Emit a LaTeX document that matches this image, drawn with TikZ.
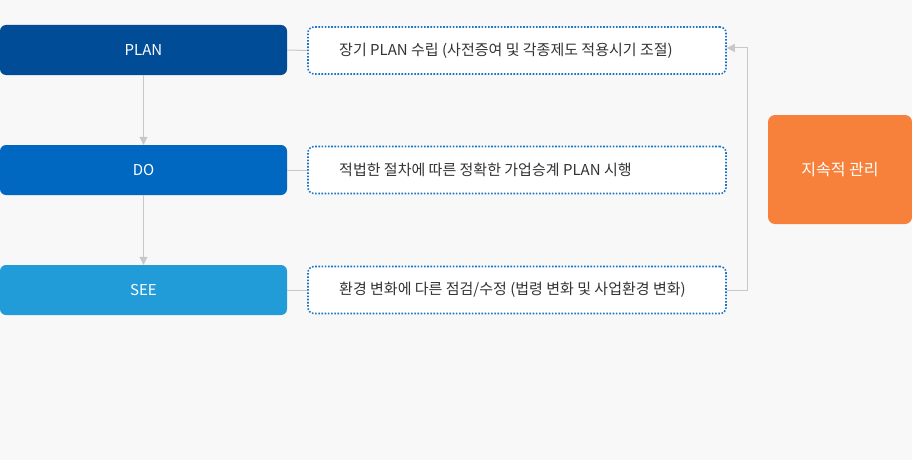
\documentclass[tikz,border=0pt]{standalone}
\usepackage{fontspec}
\setmainfont{Noto Sans CJK KR}
\usetikzlibrary{arrows.meta}
\definecolor{bgc}{HTML}{F8F8F8}
\definecolor{planc}{HTML}{004C97}
\definecolor{doc}{HTML}{0068C0}
\definecolor{seec}{HTML}{229CD8}
\definecolor{dotc}{HTML}{1A73C9}
\definecolor{linec}{HTML}{C8C8C8}
\definecolor{orc}{HTML}{F7813B}
\definecolor{txtc}{HTML}{333333}
\tikzset{
  x=1pt, y=-1pt,
  stagebox/.style={rounded corners=6pt, minimum width=287pt, minimum height=50pt, inner sep=0pt, text=white, font=\fontsize{15}{17}\selectfont},
  descbox/.style={draw=dotc, line width=1.6pt, dash pattern=on 1.6pt off 1.6pt, fill=white, rounded corners=6pt, minimum width=418pt, minimum height=47pt, inner sep=0pt},
  desctext/.style={anchor=west, text=txtc, font=\fontsize{15}{17}\selectfont, inner sep=0pt},
  conn/.style={draw=linec, line width=1pt},
  arr/.style={conn, -{Triangle[width=8pt,length=8pt]}},
}
\begin{document}
\begin{tikzpicture}
\fill[bgc] (0,0) rectangle (912,460);
\useasboundingbox (0,0) rectangle (912,460);
% stages
\node[stagebox, fill=planc] (plan) at (143.5,50) {PLAN};
\node[stagebox, fill=doc] (do) at (143.5,170) {DO};
\node[stagebox, fill=seec] (see) at (143.5,290) {SEE};
% descriptions
\node[descbox] (d1) at (517,50.5) {};
\node[descbox] (d2) at (517,170) {};
\node[descbox] (d3) at (517,290) {};
\node[desctext] (t1) at (339,50.5) {장기 PLAN 수립 (사전증여 및 각종제도 적용시기 조절)};
\node[desctext] (t2) at (339,170) {적법한 절차에 따른 정확한 가업승계 PLAN 시행};
\node[desctext] (t3) at (339,290) {환경 변화에 다른 점검/수정 (법령 변화 및 사업환경 변화)};
% orange
\node[rounded corners=7pt, fill=orc, minimum width=144pt, minimum height=109pt, inner sep=0pt, text=white, font=\fontsize{16}{18}\selectfont] (keep) at (840,169.5) {지속적 관리};
% connectors
\draw[conn] (plan.east) -- (d1.west);
\draw[conn] (do.east) -- (d2.west);
\draw[conn] (see.east) -- (d3.west);
\draw[arr] (plan.south) -- (do.north);
\draw[arr] (do.south) -- (see.north);
\coordinate (fb1) at (747,290);
\coordinate (fb2) at (747,48);
\draw[arr] (d3.east |- fb1) -- (fb1) -- (fb2) -- (d1.east |- fb2);
\end{tikzpicture}
\end{document}
